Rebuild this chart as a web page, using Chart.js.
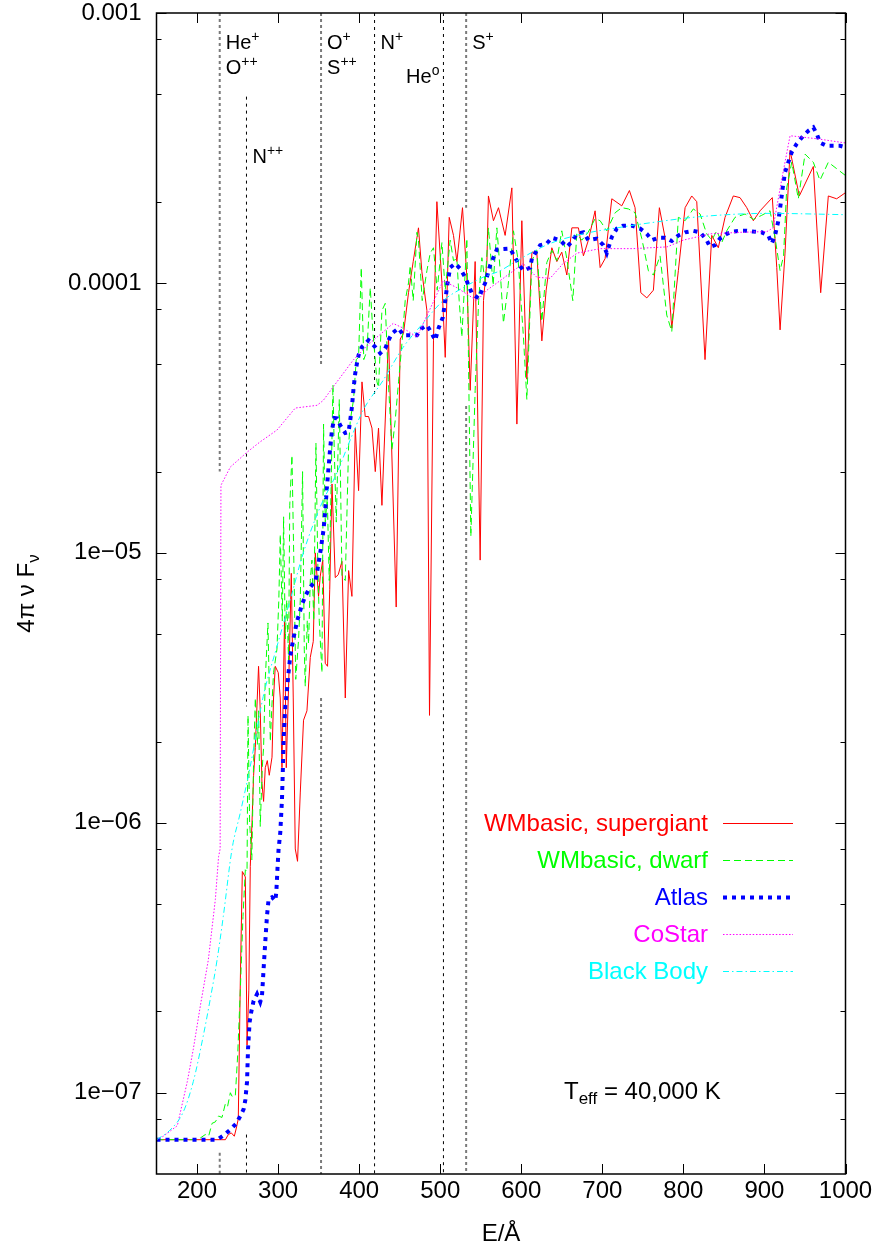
<!DOCTYPE html>
<html><head><meta charset="utf-8">
<script src="https://cdn.jsdelivr.net/npm/chart.js@4.4.1/dist/chart.umd.min.js"></script>
<style>html,body{margin:0;padding:0;background:#fff;}canvas{display:block;}</style>
</head><body>
<canvas id="c" width="876" height="1253" style="width:876px;height:1253px"></canvas>
<script>
const FONT = '"Liberation Sans", Arial, Helvetica, sans-serif';

// ---- WMbasic, supergiant (wavelength in Å, 4πνFν) ----
const sgE = [150,235,238.6,242.3,246,248.5,250.9,253.4,255.9,259.6,261.7,263.9,265.7,267.8,269.8,271.9,275.9,278,280.1,282.1,284.2,286.7,289.1,292.5,294.4,296.5,300.2,302.7,304.8,308,310.1,313.2,316.3,318.7,321.2,324,327.4,331.4,335.6,339.7,343.4,345.9,349.9,352,355.1,358.2,361,363.7,366.5,370.5,374.2,378.8,382.9,387,391.1,395.2,399.3,403.5,407.5,411.6,415.8,419.9,423.9,428.1,436.2,445.7,450.7,454.7,460.9,466.7,473.2,477.4,483.6,486.8,491.7,495.9,502.1,506.2,511.1,516.4,520.6,527.5,532.9,537,543.1,549.3,553.4,557.6,559.5,565.7,571.9,580.1,588.4,594.6,600.7,606.9,613.1,619.2,625.4,630.7,637.7,643.9,650,656.2,662.4,670.5,676.7,682.8,691.1,697.3,703.4,711.7,724,733.4,740.4,747.5,754.9,763,770.4,777.4,785.7,793.8,802.1,810.3,816.5,826.7,835,843.1,851.4,861.6,869.9,878.2,886.3,894.6,909.7,915.2,919.3,925.4,931.6,943,960.3,969.4,978.8,989.1,1000];
const sgF = [6.7e-8,6.7e-8,7.0e-8,7.1e-8,6.9e-8,7.4e-8,8.0e-8,2.6e-7,6.6e-7,6.3e-7,1.5e-7,2.4e-7,6.9e-7,1.0e-6,1.5e-6,1.9e-6,3.8e-6,2.6e-6,1.4e-6,1.2e-6,1.6e-6,1.7e-6,1.5e-6,1.75e-6,2.9e-6,3.8e-6,3.6e-6,2.9e-6,1.6e-6,5.8e-6,1.6e-6,3.4e-6,8.4e-6,2.9e-6,8.0e-7,7.2e-7,1.3e-6,2.4e-6,2.6e-6,4.1e-6,4.7e-6,1.0e-5,6.9e-6,8.2e-6,9.4e-6,3.9e-6,3.8e-6,7.3e-6,1.8e-5,8.1e-6,8.3e-6,9.3e-6,2.9e-6,8.6e-6,6.9e-6,2.9e-5,1.7e-5,4.3e-5,3.2e-5,3.2e-5,2.9e-5,2.0e-5,2.9e-5,1.5e-5,6.3e-5,6.3e-6,6.2e-5,6.5e-5,9.2e-5,1.2e-4,1.6e-4,1.1e-4,7.9e-5,2.5e-6,6.1e-5,2.0e-4,1.0e-4,5.3e-5,1.75e-4,1.5e-4,1.2e-4,1.9e-4,1.05e-4,4.0e-5,1.2e-4,9.4e-6,8.6e-5,1.2e-4,2.1e-4,1.7e-4,1.9e-4,1.5e-4,2.25e-4,3.0e-5,1.7e-4,4.4e-5,1.3e-4,1.3e-4,6.1e-5,9.4e-5,1.35e-4,1.2e-4,1.3e-4,1.07e-4,1.6e-4,1.6e-4,1.26e-4,1.44e-4,1.85e-4,1.14e-4,1.23e-4,2.05e-4,1.93e-4,2.2e-4,1.9e-4,9.2e-5,8.8e-5,9.4e-5,1.9e-4,1.47e-4,6.8e-5,1.11e-4,1.9e-4,2.1e-4,2.0e-4,5.2e-5,1.5e-4,1.35e-4,1.75e-4,2.1e-4,2.07e-4,1.9e-4,1.7e-4,1.85e-4,2.07e-4,1.14e-4,6.7e-5,1.29e-4,3.1e-4,2.1e-4,2.7e-4,9.2e-5,2.1e-4,2.05e-4,2.16e-4];

// ---- WMbasic, dwarf ----
const dwE = [150,200,204.1,210.2,214.3,218.5,222.6,226.6,230.8,234.9,237.7,241.1,243.2,247.2,250.1,253.4,256.7,259.6,261.7,262.9,264.9,267.6,269.8,271.9,274.4,276,278,280.5,282.1,284.2,287.5,290.4,292.8,294.4,298.6,300.9,302.7,305.2,306.8,308.9,310.7,312.9,314.4,317.1,319.4,321.8,325.3,327.4,330.2,332.3,333.5,336,337.6,339.7,341.8,344,346.7,348.9,350.8,354.1,356.1,358.2,360.7,363.1,365.6,367.7,369.3,371.8,375.5,378.8,382.9,387,389.1,393.1,396.4,399.3,402.6,405.7,409.6,413.7,416.8,422,423.9,428.1,432.2,435.9,440.4,444.5,448.6,453.1,456.8,460.9,463,466.7,471.3,473.2,477.8,483.6,487.7,491.7,496.3,502.1,506.2,512.3,516.4,520.6,523.4,526.7,532.9,537.8,543.1,547.4,551.4,555.5,559.5,565.3,569.9,574,578,583.8,590.4,596.2,602.7,606.9,613.1,619.2,625.4,631.5,637.7,643.9,650,656.2,663.6,668.5,674.7,682.5,691.1,697.3,705.5,715.8,724,732.2,740.4,748.7,756.8,763,771.2,779.5,785.7,793.8,802.1,812.3,820.6,828.8,835,841.2,847.3,853.5,863.7,876.1,886.3,896.6,906.9,913.1,919.3,923.6,927.5,933.7,941.8,950.1,960.3,968.5,978.8,989.1,1000];
const dwF = [6.7e-8,6.7e-8,6.8e-8,7.0e-8,6.9e-8,7.7e-8,7.8e-8,8.2e-8,8.1e-8,9.1e-8,8.9e-8,1.0e-7,9.7e-8,9.7e-8,1.37e-7,2.4e-7,4.5e-7,6.7e-7,6.6e-7,2.5e-6,1.0e-6,7.3e-7,1.7e-6,2.9e-6,1.95e-6,2.6e-6,9.7e-7,1.6e-6,1.9e-6,3.4e-6,5.5e-6,2.0e-6,2.9e-6,3.6e-6,4.4e-6,6.7e-6,1.17e-5,5.6e-6,1.36e-5,4.8e-6,6.7e-6,4.0e-6,1.5e-5,2.3e-5,9.4e-6,3.4e-6,4.8e-6,6.7e-6,2.0e-5,4.4e-6,3.2e-6,5.6e-6,4.6e-6,7.9e-6,9.4e-6,5.6e-6,2.55e-5,9.4e-6,5.6e-6,3.6e-6,3.0e-5,1.3e-5,1.6e-5,7.9e-6,1.9e-5,4.2e-5,2.4e-5,1.3e-5,3.7e-5,8.2e-6,7.9e-6,2.5e-5,3.1e-5,3.7e-5,5.2e-5,5.3e-5,1.14e-4,5.2e-5,5.6e-5,9.6e-5,6.7e-5,4.3e-5,4.1e-5,7.9e-5,8.4e-5,4.4e-5,2.4e-5,3.1e-5,4.3e-5,6.1e-5,8.6e-5,1.0e-4,1.16e-4,8.6e-5,1.54e-4,1.44e-4,8.6e-5,1.11e-4,1.29e-4,1.35e-4,9.4e-5,1.41e-4,9.4e-5,1.44e-4,1.21e-4,1.23e-4,8.6e-5,6.3e-5,1.46e-4,1.15e-5,4.0e-5,8.6e-5,1.24e-4,1.0e-4,1.6e-4,9.8e-5,1.6e-4,1.11e-4,7.1e-5,9.8e-5,1.56e-4,1.21e-4,6.3e-5,3.7e-5,1.21e-4,1.32e-4,7.2e-5,1.19e-4,1.32e-4,1.21e-4,1.56e-4,1.23e-4,8.6e-5,1.52e-4,1.44e-4,1.54e-4,1.73e-4,1.7e-4,1.56e-4,1.82e-4,1.9e-4,1.88e-4,1.82e-4,1.46e-4,1.11e-4,1.07e-4,1.26e-4,7.6e-5,6.6e-5,1.75e-4,1.7e-4,1.88e-4,1.8e-4,1.52e-4,1.44e-4,1.56e-4,1.41e-4,1.56e-4,1.75e-4,1.8e-4,1.72e-4,1.78e-4,1.85e-4,1.47e-4,1.11e-4,1.26e-4,2.25e-4,2.8e-4,2.05e-4,3.0e-4,2.8e-4,2.4e-4,2.8e-4,2.65e-4,2.5e-4];

// ---- Atlas ----
const atE = [150,224.7,232.8,241.1,248.5,253.4,257.5,259.6,261.7,262.9,264.9,267,269.8,274,278,280.1,280.9,282.1,284.2,286.3,288.3,292.5,296.5,297.8,299.4,300.6,302.7,304.8,306,306.8,308,308.9,311,312.9,315,317.1,319.1,321.2,323.3,326.5,329.5,333.5,337.6,341.8,345.9,348,352,356.1,358.2,360.3,362.3,364.4,366.5,369.3,372.6,376.7,382.9,386.9,389,391.1,393.1,395.2,397.3,399.3,403.5,411.6,419.9,426,432.2,436.2,440.4,448.6,454.7,471.3,477.4,483.6,489.7,493.8,497.9,503.3,506.2,509,512.3,518.5,524.6,530.8,539.1,547.2,551.4,555.5,561.6,569.9,586.3,596.5,602.7,611,613.1,619.2,623.3,631.5,637.7,647.9,656.2,662.4,668.5,676.7,682.8,693.2,701.3,705.5,711.7,717.9,725.6,736.4,746.6,754.9,761,769.2,777.4,785.7,793.8,802.1,812.3,820.6,828.8,832.8,839,845.2,853.5,861.6,869.9,878.2,886.3,896.6,904.8,909,913.1,917.2,920.1,922.6,925.4,929.5,933.7,939.9,948,954.2,960.3,964.5,968.6,976.8,993.2,1000];
const atF = [6.7e-8,6.7e-8,6.95e-8,7.3e-8,7.7e-8,8.2e-8,8.7e-8,9.4e-8,1.1e-7,1.45e-7,1.83e-7,2.0e-7,2.19e-7,2.32e-7,2.17e-7,2.28e-7,2.49e-7,2.87e-7,3.62e-7,4.52e-7,5.21e-7,5.3e-7,5.14e-7,5.53e-7,6.9e-7,7.98e-7,9.2e-7,1.22e-6,1.62e-6,2.04e-6,2.41e-6,2.7e-6,3.12e-6,3.6e-6,4.14e-6,4.5e-6,4.85e-6,5.19e-6,5.57e-6,6.0e-6,6.43e-6,6.9e-6,7.3e-6,7.6e-6,7.83e-6,8.44e-6,1.0e-5,1.22e-5,1.44e-5,1.76e-5,2.08e-5,2.47e-5,2.85e-5,3.16e-5,3.15e-5,2.97e-5,2.78e-5,2.8e-5,3.1e-5,3.47e-5,4.07e-5,4.63e-5,5.04e-5,5.4e-5,5.79e-5,6.13e-5,5.79e-5,5.49e-5,5.72e-5,6.13e-5,6.5e-5,6.79e-5,6.4e-5,6.4e-5,6.79e-5,6.97e-5,6.5e-5,6.13e-5,6.79e-5,7.47e-5,8.61e-5,9.96e-5,1.14e-4,1.18e-4,1.13e-4,1.05e-4,9.15e-5,8.77e-5,9.38e-5,1.0e-4,1.16e-4,1.33e-4,1.34e-4,1.18e-4,1.11e-4,1.14e-4,1.23e-4,1.32e-4,1.38e-4,1.40e-4,1.47e-4,1.44e-4,1.36e-4,1.42e-4,1.52e-4,1.54e-4,1.44e-4,1.46e-4,1.38e-4,1.29e-4,1.48e-4,1.59e-4,1.63e-4,1.63e-4,1.59e-4,1.52e-4,1.44e-4,1.47e-4,1.47e-4,1.43e-4,1.50e-4,1.54e-4,1.56e-4,1.54e-4,1.44e-4,1.36e-4,1.38e-4,1.46e-4,1.52e-4,1.55e-4,1.56e-4,1.56e-4,1.55e-4,1.54e-4,1.50e-4,1.40e-4,1.50e-4,1.70e-4,1.97e-4,2.26e-4,2.57e-4,2.8e-4,3.05e-4,3.28e-4,3.51e-4,3.66e-4,3.77e-4,3.57e-4,3.31e-4,3.22e-4,3.22e-4,3.18e-4];

// ---- CoStar ----
const csE = [150,158.4,175.7,188,195.4,204.1,213.9,222.6,226.6,228.5,229.5,241.1,261.7,278,298.6,321.2,348,355.7,372.6,392.7,413.7,442,454.4,471.3,503.7,520.6,545.2,557.6,574,602.3,619.2,635.6,651.6,668.9,697.3,738,779.9,799.6,832.9,869.9,903.2,910.6,921.7,931.6,964.9,1000];
const csF = [6.7e-8,6.9e-8,7.55e-8,1.1e-7,1.45e-7,2.1e-7,3.1e-7,5.2e-7,7.5e-7,8.0e-7,1.78e-5,2.08e-5,2.36e-5,2.58e-5,2.85e-5,3.44e-5,3.52e-5,3.67e-5,4.3e-5,5.18e-5,6.0e-5,7.08e-5,6.8e-5,6.3e-5,1.02e-4,9.6e-5,8.6e-5,9.4e-5,1.02e-4,1.18e-4,1.05e-4,1.04e-4,1.18e-4,1.29e-4,1.34e-4,1.34e-4,1.36e-4,1.44e-4,1.52e-4,1.54e-4,1.55e-4,1.6e-4,2.45e-4,3.51e-4,3.42e-4,3.3e-4];

// ---- Black Body ----
const bbE = [150,166,183.1,195.4,207.8,216.4,224.7,232.4,243.2,253.4,265.7,281.7,298.6,315,331.1,352,372.6,389,405,429.7,454.4,479,503.7,528.3,553,574,594.9,635.6,676.3,718.2,758.9,820.6,903.2,1000];
const bbF = [6.7e-8,7.24e-8,8.5e-8,1.1e-7,1.63e-7,2.23e-7,3.1e-7,4.5e-7,8.0e-7,1.09e-6,1.62e-6,2.94e-6,4.5e-6,6.7e-6,1.0e-5,1.48e-5,1.98e-5,2.62e-5,3.38e-5,4.36e-5,5.78e-5,7.1e-5,8.6e-5,9.6e-5,1.05e-4,1.11e-4,1.21e-4,1.40e-4,1.52e-4,1.60e-4,1.67e-4,1.76e-4,1.81e-4,1.79e-4];

// ---- ionisation edges (Å) and the extent of their marker lines ----
const edges = [228, 261, 353, 419, 504, 532];
const edgeTopStart = [1e-3, 4.9e-4, 1e-3, 1e-3, 1e-3, 1e-3];
const edgeTopEnd = [2.0e-5, 2.7e-6, 5.0e-5, 3.8e-5, 1.9e-4, 1.9e-4];
const edgeLowStart = [6.0e-8, 7.0e-8, 2.9e-6, 1.5e-5, 5.0e-5, 3.5e-5];
const edgeGray = [true, false, true, false, false, true];

// ---- axes ----
const xMin = 150, xMax = 1000, yMin = 5e-8, yMax = 1e-3;
const xTicks = [200, 300, 400, 500, 600, 700, 800, 900, 1000];
const yTicks = [1e-7, 1e-6, 1e-5, 1e-4, 1e-3];
const yTickLabels = ['1e\u221207', '1e\u221206', '1e\u221205', '0.0001', '0.001'];
const yMinorMant = [2, 5, 8];

const seriesNames = ['WMbasic, supergiant', 'WMbasic, dwarf', 'Atlas', 'CoStar', 'Black Body'];

const pts = (E, F) => E.map((e, i) => ({x: e, y: F[i]}));
const base = {pointRadius: 0, pointHoverRadius: 0, fill: false, tension: 0, borderCapStyle: 'butt'};

const datasets = [
  Object.assign({}, base, {label: seriesNames[0], data: pts(sgE, sgF), borderColor: '#ff0000', borderWidth: 1, borderJoinStyle: 'round', order: 5}),
  Object.assign({}, base, {label: seriesNames[1], data: pts(dwE, dwF), borderColor: '#00ff00', borderWidth: 1, borderDash: [7, 4], borderJoinStyle: 'round', order: 4}),
  Object.assign({}, base, {label: seriesNames[2], data: pts(atE, atF), borderColor: '#0000ff', borderWidth: 4, borderDash: [4, 5], order: 3}),
  Object.assign({}, base, {label: seriesNames[3], data: pts(csE, csF), borderColor: '#ff00ff', borderWidth: 1, borderDash: [1.5, 1.8], order: 2}),
  Object.assign({}, base, {label: seriesNames[4], data: pts(bbE, bbF), borderColor: '#00ffff', borderWidth: 1, borderDash: [6, 3, 1.5, 3], cubicInterpolationMode: 'monotone', order: 1})
];
edges.forEach((e, i) => {
  datasets.push(Object.assign({}, base, {
    label: 'edge' + e,
    data: [{x: e, y: edgeTopStart[i]}, {x: e, y: edgeTopEnd[i]}, {x: e, y: null}, {x: e, y: edgeLowStart[i]}, {x: e, y: yMin}],
    spanGaps: false,
    borderColor: edgeGray[i] ? '#7a7a7a' : '#000000',
    borderWidth: edgeGray[i] ? 2 : 1,
    borderDash: edgeGray[i] ? [3, 3] : [3, 4],
    order: 10
  }));
});

function drawSup(ctx, x, yb, main, sup, size, align) {
  ctx.font = size + 'px ' + FONT;
  const w1 = ctx.measureText(main).width;
  ctx.font = Math.round(size * 0.7) + 'px ' + FONT;
  const w2 = ctx.measureText(sup).width;
  let sx = align === 'right' ? x - w1 - w2 : x;
  ctx.textAlign = 'left';
  ctx.textBaseline = 'alphabetic';
  ctx.font = size + 'px ' + FONT;
  ctx.fillText(main, sx, yb);
  ctx.font = Math.round(size * 0.7) + 'px ' + FONT;
  ctx.fillText(sup, sx + w1, yb - size * 0.38);
}

// ion labels: [edge index, main, superscript, baseline y, align]
const ionLabels = [
  [0, 'He', '+', 49, 'left'], [0, 'O', '++', 74, 'left'],
  [1, 'N', '++', 163, 'left'],
  [2, 'O', '+', 49, 'left'], [2, 'S', '++', 74, 'left'],
  [3, 'N', '+', 49, 'left'],
  [4, 'He', 'o', 83, 'right'],
  [5, 'S', '+', 49, 'left']
];

const decor = {
  id: 'decor',
  afterDatasetsDraw(chart) {
    const {ctx, chartArea: a, scales: {x, y}} = chart;
    ctx.save();
    ctx.setLineDash([]);
    ctx.strokeStyle = '#000';
    // ticks (inward, mirrored)
    ctx.lineWidth = 1;
    ctx.beginPath();
    xTicks.forEach(v => {
      const px = Math.round(x.getPixelForValue(v)) + 0.5;
      ctx.moveTo(px, a.bottom); ctx.lineTo(px, a.bottom - 10);
      ctx.moveTo(px, a.top); ctx.lineTo(px, a.top + 10);
    });
    yTicks.forEach(v => {
      const py = Math.round(y.getPixelForValue(v)) + 0.5;
      ctx.moveTo(a.left, py); ctx.lineTo(a.left + 10, py);
      ctx.moveTo(a.right, py); ctx.lineTo(a.right - 10, py);
    });
    for (let e = -8; e <= -4; e++) {
      yMinorMant.forEach(m => {
        const v = m * Math.pow(10, e);
        if (v <= yMin * 1.0001 || v >= yMax) return;
        const py = Math.round(y.getPixelForValue(v)) + 0.5;
        ctx.moveTo(a.left, py); ctx.lineTo(a.left + 5, py);
        ctx.moveTo(a.right, py); ctx.lineTo(a.right - 5, py);
      });
    }
    ctx.stroke();
    // frame
    ctx.lineWidth = 1.5;
    ctx.strokeRect(a.left, a.top, a.right - a.left, a.bottom - a.top);

    // ion labels
    ctx.fillStyle = '#000';
    ionLabels.forEach(l => {
      const px = x.getPixelForValue(edges[l[0]]);
      if (l[4] === 'right') drawSup(ctx, px - 4, l[3], l[1], l[2], 20, 'right');
      else drawSup(ctx, px + 6, l[3], l[1], l[2], 20, 'left');
    });

    // legend (gnuplot style, text right-aligned then sample)
    for (let i = 0; i < 5; i++) {
      const ds = chart.data.datasets[i];
      const yy = 823.5 + i * 37;
      ctx.font = '24px ' + FONT;
      ctx.textAlign = 'right';
      ctx.textBaseline = 'middle';
      ctx.fillStyle = ds.borderColor;
      ctx.fillText(ds.label, 708, yy + 1);
      ctx.beginPath();
      ctx.strokeStyle = ds.borderColor;
      ctx.lineWidth = ds.borderWidth;
      ctx.setLineDash(ds.borderDash || []);
      ctx.moveTo(723, yy); ctx.lineTo(793, yy);
      ctx.stroke();
    }
    ctx.setLineDash([]);

    // T_eff label
    ctx.fillStyle = '#000';
    ctx.textAlign = 'left';
    ctx.textBaseline = 'alphabetic';
    let tx = 564;
    ctx.font = '24px ' + FONT; ctx.fillText('T', tx, 1099); tx += ctx.measureText('T').width;
    ctx.font = '17px ' + FONT; ctx.fillText('eff', tx, 1104); tx += ctx.measureText('eff').width;
    ctx.font = '24px ' + FONT; ctx.fillText(' = 40,000 K', tx, 1099);

    // y-axis title 4π ν F_ν
    ctx.save();
    ctx.translate(34, (a.top + a.bottom) / 2);
    ctx.rotate(-Math.PI / 2);
    ctx.font = '24px ' + FONT;
    const m1 = '4\u03C0 \u03BD F';
    const w1 = ctx.measureText(m1).width;
    ctx.font = '17px ' + FONT;
    const w2 = ctx.measureText('\u03BD').width;
    const sx = -(w1 + w2) / 2;
    ctx.font = '24px ' + FONT;
    ctx.fillText(m1, sx, 0);
    ctx.font = '17px ' + FONT;
    ctx.fillText('\u03BD', sx + w1, 5);
    ctx.restore();

    ctx.restore();
  }
};

new Chart(document.getElementById('c'), {
  type: 'line',
  data: {datasets},
  options: {
    responsive: false,
    animation: false,
    devicePixelRatio: 1,
    events: [],
    layout: {padding: {top: 13, right: 30.5, left: 0, bottom: 0}},
    plugins: {legend: {display: false}, tooltip: {enabled: false}},
    scales: {
      x: {
        type: 'linear', position: 'bottom', min: xMin, max: xMax,
        grid: {display: false, drawTicks: false},
        border: {display: false},
        afterBuildTicks: s => { s.ticks = xTicks.map(v => ({value: v})); },
        afterFit: s => { s.height = 79; s.paddingLeft = 0; s.paddingRight = 0; },
        ticks: {autoSkip: false, maxRotation: 0, padding: 3, color: '#000', font: {family: FONT, size: 24}, callback: v => String(v)},
        title: {display: true, text: 'E/\u00C5', color: '#000', font: {family: FONT, size: 24}, padding: {top: 4, bottom: 4}}
      },
      y: {
        type: 'logarithmic', position: 'left', min: yMin, max: yMax,
        grid: {display: false, drawTicks: false},
        border: {display: false},
        afterBuildTicks: s => { s.ticks = yTicks.map(v => ({value: v})); },
        afterFit: s => { s.width = 156.5; s.paddingTop = 0; s.paddingBottom = 0; },
        ticks: {autoSkip: false, padding: 15, color: '#000', font: {family: FONT, size: 24},
          callback: v => { const i = yTicks.findIndex(t => Math.abs(t - v) / t < 1e-6); return i >= 0 ? yTickLabels[i] : ''; }}
      }
    }
  },
  plugins: [decor]
});
</script>
</body></html>
